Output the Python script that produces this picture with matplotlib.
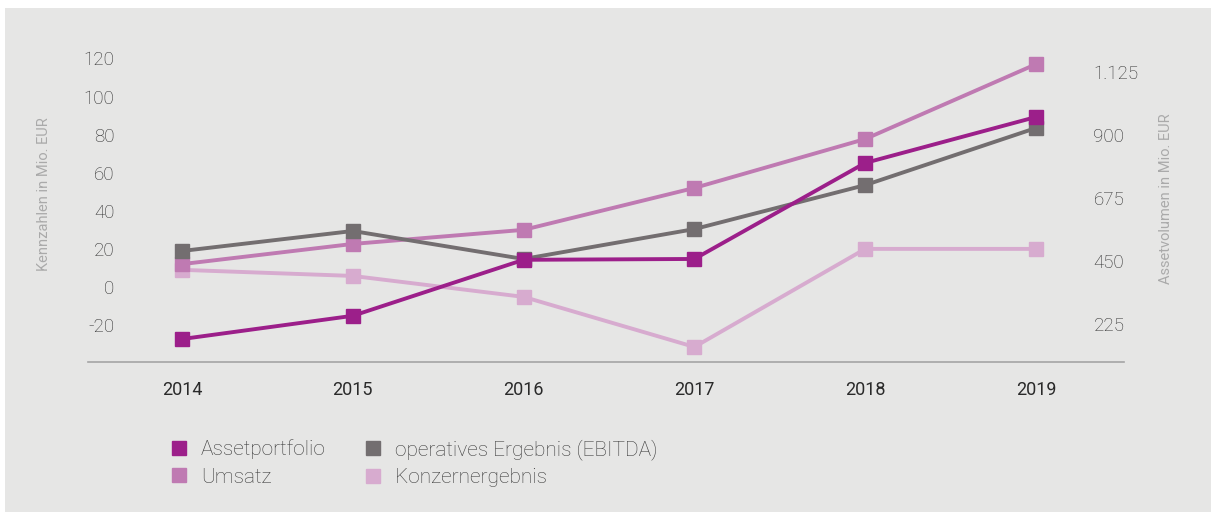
import matplotlib.pyplot as plt
from matplotlib.lines import Line2D
from matplotlib.patches import Rectangle

plt.rcParams['font.family'] = ['Roboto', 'DejaVu Sans']

years = [2014, 2015, 2016, 2017, 2018, 2019]
assetportfolio = [171, 254, 454, 457, 800, 964]   # rechte Achse
ebitda = [18.9, 29.4, 14.7, 30.4, 53.5, 83.5]
umsatz = [12, 22.6, 30, 52, 77.7, 117]
konzern = [9, 5.8, -5.2, -31.5, 20, 20]

left_ticks = [-20, 0, 20, 40, 60, 80, 100, 120]
right_ticks = [225, 450, 675, 900, 1125]
right_labels = ['225', '450', '675', '900', '1.125']

c_asset = '#9c1f8a'
c_umsatz = '#bf7ab2'
c_ebitda = '#736e70'
c_konzern = '#d7abcf'
bg = '#e6e6e5'

fig = plt.figure(figsize=(12.11, 5.12), dpi=100, facecolor='white')
fig.patches.append(Rectangle((5 / 1211, 0), 1 - 5 / 1211, 1 - 8 / 512,
                             transform=fig.transFigure, facecolor=bg,
                             edgecolor='none', zorder=-10))

ax = fig.add_axes([88 / 1211, 1 - 362 / 512, (1124 - 88) / 1211, (362 - 40) / 512])
ax2 = ax.twinx()
for a in (ax, ax2):
    a.set_facecolor('none')
    for s in a.spines.values():
        s.set_visible(False)
ax.spines['bottom'].set_visible(True)
ax.spines['bottom'].set_color('#a5a5a5')
ax.spines['bottom'].set_linewidth(1.2)

ax.set_xlim(2013.45, 2019.515)
ax.set_ylim(-39.4, 129.7)
ax2.set_ylim(89, 1239)

lw = 2.8
ms = 10
ax.plot(years, konzern, color=c_konzern, lw=lw, marker='s', ms=ms, zorder=2)
ax.plot(years, umsatz, color=c_umsatz, lw=lw, marker='s', ms=ms, zorder=3)
ax.plot(years, ebitda, color=c_ebitda, lw=lw, marker='s', ms=ms, zorder=4)
ax2.plot(years, assetportfolio, color=c_asset, lw=lw, marker='s', ms=ms, zorder=5)

ax.set_xticks(years)
ax.set_xticklabels([str(y) for y in years], fontsize=13, color='#2a2a2a')
ax.tick_params(axis='x', length=0, pad=14)
ax.set_yticks(left_ticks)
ax.set_yticklabels([str(t) for t in left_ticks], fontsize=13.5, color='#2e2e2e',
                   fontweight='light')
ax.tick_params(axis='y', length=0, pad=-19)
ax2.set_yticks(right_ticks)
ax2.set_yticklabels(right_labels, fontsize=13.5, color='#2e2e2e', fontweight='light')
ax2.tick_params(axis='y', length=0, pad=-22)

fig.text(44 / 1211, 1 - 194 / 512, 'Kennzahlen in Mio. EUR', rotation=90,
         ha='center', va='center', fontsize=10.5, color='#aaaaaa')
fig.text(1166 / 1211, 1 - 199 / 512, 'Assetvolumen in Mio. EUR', rotation=90,
         ha='center', va='center', fontsize=10.5, color='#aaaaaa')

handles = [Line2D([], [], ls='none', marker='s', ms=10, color=c)
           for c in (c_asset, c_umsatz, c_ebitda, c_konzern)]
labels = ['Assetportfolio', 'Umsatz', 'operatives Ergebnis (EBITDA)', 'Konzernergebnis']
leg = fig.legend(handles, labels, ncol=2, loc='upper left',
                 bbox_to_anchor=(150 / 1211, 1 - 420 / 512), frameon=False,
                 fontsize=15, labelcolor='#3a3a3a', handletextpad=0.55,
                 columnspacing=1.75, labelspacing=0.42, handlelength=1.0)
for t in leg.get_texts():
    t.set_fontweight('light')

fig.savefig('out.png', dpi=100, facecolor='white')
